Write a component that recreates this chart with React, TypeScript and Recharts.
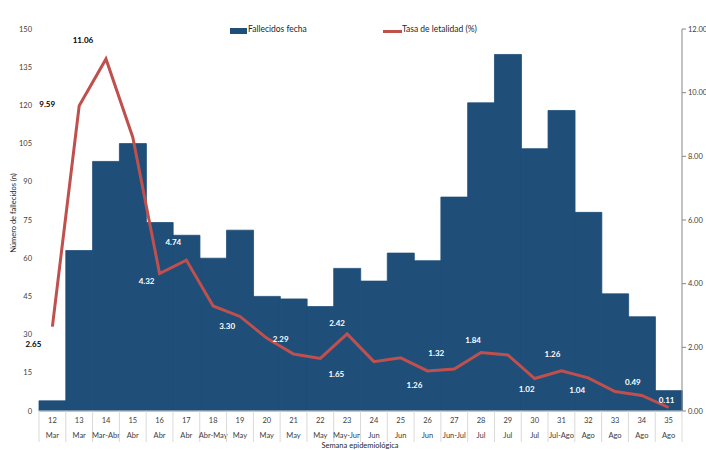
import React from "react";
import {
  ComposedChart,
  Bar,
  Line,
  XAxis,
  YAxis,
  Legend,
  LabelList,
  Label,
} from "recharts";

const weeks = [
  "12", "13", "14", "15", "16", "17", "18", "19", "20", "21", "22", "23",
  "24", "25", "26", "27", "28", "29", "30", "31", "32", "33", "34", "35",
];
const months = [
  "Mar", "Mar", "Mar-Abr", "Abr", "Abr", "Abr", "Abr-May", "May", "May", "May", "May", "May-Jun",
  "Jun", "Jun", "Jun", "Jun-Jul", "Jul", "Jul", "Jul", "Jul-Ago", "Ago", "Ago", "Ago", "Ago",
];
const fallecidos = [4, 63, 98, 105, 74, 69, 60, 71, 45, 44, 41, 56, 51, 62, 59, 84, 121, 140, 103, 118, 78, 46, 37, 8];
const letalidad = [
  2.65, 9.59, 11.06, 8.6, 4.32, 4.74, 3.3, 2.97, 2.29, 1.79, 1.65, 2.42,
  1.55, 1.67, 1.26, 1.32, 1.84, 1.76, 1.02, 1.26, 1.04, 0.61, 0.49, 0.11,
];
const leftTicks = [0, 15, 30, 45, 60, 75, 90, 105, 120, 135, 150];
const rightTicks = [0, 2, 4, 6, 8, 10, 12];

const data = weeks.map((w, i) => ({
  week: w,
  month: months[i],
  fallecidos: fallecidos[i],
  letalidad: letalidad[i],
}));

// label offsets from the point [dx, dy, dark]
const labelPlacement: Record<number, [number, number, boolean]> = {
  0: [-19, 17, true],
  1: [-32, -2, true],
  2: [-23, -19, true],
  4: [-13, 8, false],
  5: [-13, -18, false],
  6: [14, 20, false],
  8: [14, 1, false],
  10: [16, 16, false],
  11: [-10, -11, false],
  14: [-13, 14, false],
  15: [-18, -16, false],
  16: [-8, -12, false],
  18: [-8, 10, false],
  19: [-9, -17, false],
  20: [-11, 12, false],
  22: [-9, -13, false],
  23: [-2, -7, false],
};

const FONT = "Lato, 'Open Sans', sans-serif";
const PLOT_LEFT = 39;
const PLOT_RIGHT = 682;
const BAND = (PLOT_RIGHT - PLOT_LEFT) / weeks.length;

const WeekTick = (props: any) => {
  const { x, y, payload } = props;
  const i = payload.index;
  return (
    <g>
      <line x1={x - BAND / 2} y1={y} x2={x - BAND / 2} y2={y + 31} stroke="#d9d9d9" />
      {i === weeks.length - 1 && (
        <line x1={x + BAND / 2} y1={y} x2={x + BAND / 2} y2={y + 31} stroke="#d9d9d9" />
      )}
      <text x={x} y={y + 12} textAnchor="middle" fontSize={7.5} fill="#404040" fontFamily={FONT}>
        {payload.value}
      </text>
      <text x={x} y={y + 27} textAnchor="middle" fontSize={7.5} fill="#404040" fontFamily={FONT}>
        {months[i]}
      </text>
    </g>
  );
};

const renderRateLabel = (props: any) => {
  const { x, y, index, value } = props;
  const p = labelPlacement[index];
  if (!p) return null;
  return (
    <text
      x={x + p[0]}
      y={y + p[1]}
      textAnchor="middle"
      dominantBaseline="central"
      fontSize={8}
      fontWeight={700}
      fill={p[2] ? "#000000" : "#ffffff"}
      fontFamily={FONT}
    >
      {Number(value).toFixed(2)}
    </text>
  );
};

const LegendBox = () => (
  <div style={{ position: "relative", width: 706, height: 14, fontFamily: FONT, fontSize: 8.5, color: "#262626" }}>
    <div style={{ position: "absolute", left: 230, top: 3, width: 17, height: 6, background: "#1F4E79" }} />
    <span style={{ position: "absolute", left: 248, top: -1 }}>Fallecidos fecha</span>
    <div style={{ position: "absolute", left: 383, top: 5, width: 19, height: 2.5, background: "#C0504D" }} />
    <span style={{ position: "absolute", left: 402, top: -1 }}>Tasa de letalidad (%)</span>
  </div>
);

export default function App() {
  return (
    <div style={{ position: "absolute", left: 0, top: 0, width: 706, height: 450, background: "#fff" }}>
      <ComposedChart
        width={706}
        height={450}
        data={data}
        margin={{ top: 15, right: 0, bottom: 0, left: 0 }}
        barCategoryGap={0}
        barGap={0}
      >
        <XAxis
          dataKey="week"
          interval={0}
          tickSize={0}
          tickMargin={0}
          height={39}
          axisLine={{ stroke: "#d9d9d9" }}
          tick={<WeekTick />}
        >
          <Label
            content={() => (
              <text x={360} y={448} textAnchor="middle" fontSize={7.5} fill="#262626" fontFamily={FONT}>
                Semana epidemiológica
              </text>
            )}
          />
        </XAxis>
        <YAxis
          yAxisId="left"
          width={39}
          domain={[0, 150]}
          ticks={leftTicks}
          interval={0}
          axisLine={false}
          tickLine={false}
          tickSize={5}
          tickMargin={2}
          tick={{ fontSize: 7.5, fill: "#404040", fontFamily: FONT }}
        >
          <Label
            content={() => (
              <text
                x={13}
                y={213}
                transform="rotate(-90 13 213)"
                textAnchor="middle"
                dominantBaseline="central"
                fontSize={7.5}
                fill="#262626"
                fontFamily={FONT}
              >
                Número de fallecidos (n)
              </text>
            )}
          />
        </YAxis>
        <YAxis
          yAxisId="right"
          orientation="right"
          width={24}
          domain={[0, 12]}
          ticks={rightTicks}
          interval={0}
          axisLine={{ stroke: "#868686" }}
          tickLine={{ stroke: "#868686" }}
          tickSize={4}
          tickMargin={2}
          tickFormatter={(v: number) => v.toFixed(2)}
          tick={{ fontSize: 7.5, fill: "#404040", fontFamily: FONT, textAnchor: "start" }}
        />
        <Legend
          verticalAlign="top"
          wrapperStyle={{ top: 25, left: 0, width: 706, height: 14 }}
          content={() => <LegendBox />}
        />
        <Bar
          yAxisId="left"
          dataKey="fallecidos"
          name="Fallecidos fecha"
          fill="#1F4E79"
          stroke="#1F4E79"
          strokeWidth={0.8}
          isAnimationActive={false}
        />
        <Line
          yAxisId="right"
          type="linear"
          dataKey="letalidad"
          name="Tasa de letalidad (%)"
          stroke="#C0504D"
          strokeWidth={3}
          dot={false}
          activeDot={false}
          isAnimationActive={false}
        >
          <LabelList dataKey="letalidad" content={renderRateLabel} />
        </Line>
      </ComposedChart>
    </div>
  );
}
